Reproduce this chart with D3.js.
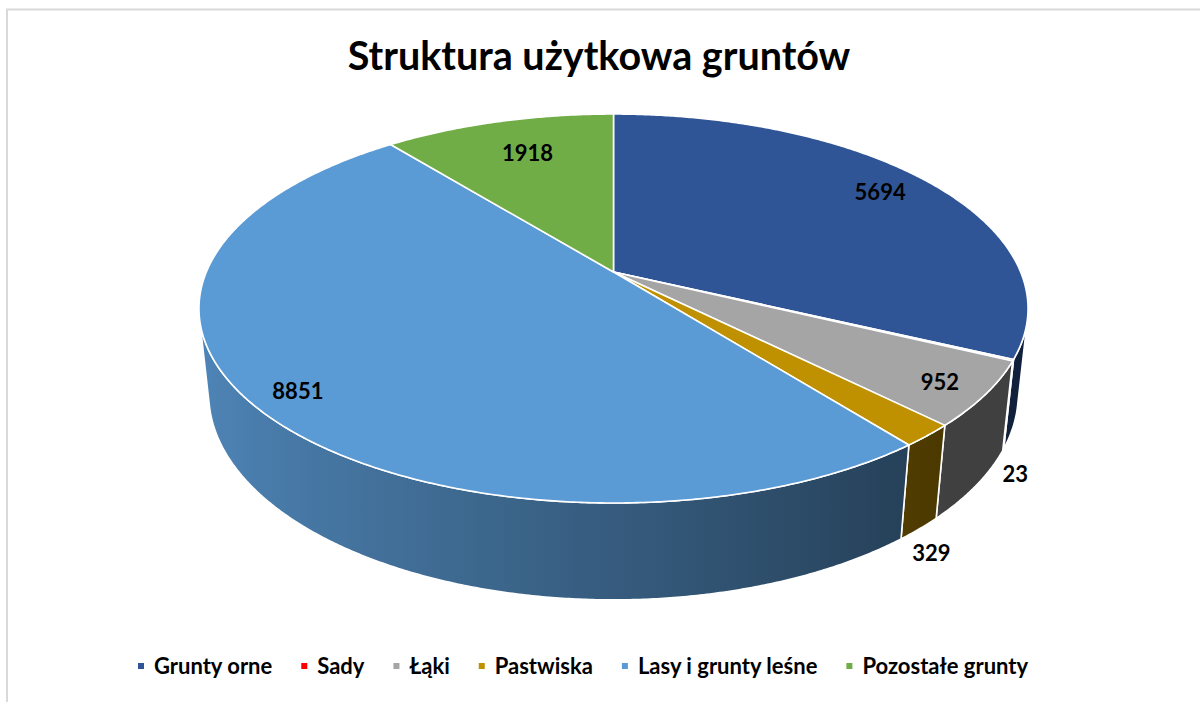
<!DOCTYPE html>
<html>

<head>
    <meta charset="utf-8">
    <script src="https://d3js.org/d3.v7.min.js"></script>
    <style>
        body {
            margin: 0;
            background: #fff;
        }

        text {
            font-family: Lato, "Open Sans", sans-serif;
            font-weight: bold;
            fill: #000;
        }
    </style>
</head>

<body>
    <script>
        var title = "Struktura użytkowa gruntów";
        var categories = ["Grunty orne", "Sady", "Łąki", "Pastwiska", "Lasy i grunty leśne", "Pozostałe grunty"];
        var values = [5694, 23, 952, 329, 8851, 1918];
        var colors = ["#2F5597", "#FF0000", "#A5A5A5", "#BF9000", "#5B9BD5", "#70AD47"];

        var width = 1200, height = 702;

        var svg = d3.select("body").append("svg")
            .attr("width", width)
            .attr("height", height);

        var defs = svg.append("defs");

        // chart frame
        svg.append("rect")
            .attr("x", 7)
            .attr("y", 9.5)
            .attr("width", 1400)
            .attr("height", 900)
            .attr("fill", "none")
            .attr("stroke", "#d9d9d9")
            .attr("stroke-width", 2);

        svg.append("text")
            .attr("x", 599)
            .attr("y", 70)
            .attr("text-anchor", "middle")
            .style("font-size", "39.5px")
            .text(title);

        // simple perspective camera for the 3d pie (radius = 1)
        var cx = 613.5, cy = 272;
        var focal = 1925, dist = 4.728, depth = 0.239;
        var tilt = 27.44 * Math.PI / 180;

        function project(a, r, y) {
            var X = r * Math.sin(a), Z = -r * Math.cos(a);
            var yc = -y * Math.cos(tilt) + Z * Math.sin(tilt);
            var zc = dist - (Z * Math.cos(tilt) + y * Math.sin(tilt));
            return [cx + focal * X / zc, cy + focal * yc / zc];
        }

        function arcPoints(a0, a1, r, y) {
            var n = Math.max(2, Math.ceil(Math.abs(a1 - a0) / (0.4 * Math.PI / 180)));
            var pts = [];
            for (var k = 0; k <= n; k++) {
                pts.push(project(a0 + (a1 - a0) * k / n, r, y));
            }
            return pts;
        }

        // outer wall is facing the camera between these angles
        var aS = Math.acos(-1 / (dist * Math.cos(tilt)));
        var aE = 2 * Math.PI - aS;

        function shade(a) {
            return Math.max(0.39, 0.59 - 0.28 * Math.sin(a));
        }

        function darken(c, k) {
            var col = d3.rgb(c);
            return d3.rgb(col.r * k, col.g * k, col.b * k).formatHex();
        }

        var pie = d3.pie().sort(null).value(function (d) { return d; });
        var arcs = pie(values);
        var total = d3.sum(values);

        var line = d3.line();

        // side gradients, light from the left
        var xl = project(aE, 1, 0)[0], xr = project(aS, 1, 0)[0];
        colors.forEach(function (c, i) {
            var g = defs.append("linearGradient")
                .attr("id", "side" + i)
                .attr("gradientUnits", "userSpaceOnUse")
                .attr("x1", xl).attr("x2", xr)
                .attr("y1", 0).attr("y2", 0);
            for (var k = 0; k <= 40; k++) {
                var a = aE - (aE - aS) * k / 40;
                var x = project(a, 1, 0)[0];
                g.append("stop")
                    .attr("offset", (x - xl) / (xr - xl))
                    .attr("stop-color", darken(c, shade(a)));
            }
        });

        var sides = svg.append("g").attr("class", "sides");
        arcs.forEach(function (d, i) {
            var a0 = Math.max(d.startAngle, aS), a1 = Math.min(d.endAngle, aE);
            if (a1 <= a0) return;
            var pts = arcPoints(a0, a1, 1, 0).concat(arcPoints(a1, a0, 1, -depth));
            sides.append("path")
                .attr("d", line(pts) + "Z")
                .attr("fill", "url(#side" + i + ")")
                .attr("stroke", "#fff")
                .attr("stroke-width", 1.6)
                .attr("stroke-linejoin", "round");
        });

        var tops = svg.append("g").attr("class", "tops");
        tops.selectAll("path")
            .data(arcs)
            .enter().append("path")
            .attr("d", function (d) {
                return line([[cx, cy]].concat(arcPoints(d.startAngle, d.endAngle, 1, 0))) + "Z";
            })
            .attr("fill", function (d, i) { return colors[i]; })
            .attr("stroke", "#fff")
            .attr("stroke-width", 1.6)
            .attr("stroke-linejoin", "round");

        // data labels
        var labels = svg.append("g").attr("class", "labels");
        arcs.forEach(function (d) {
            var mid = (d.startAngle + d.endAngle) / 2;
            var p;
            if (d.value / total < 0.03) {
                p = project(mid, 1, -depth);
                p = [p[0] + 12, p[1] + 24];
            } else {
                var e = project(mid, 1, 0);
                var dx = cx - e[0], dy = cy - e[1], len = Math.sqrt(dx * dx + dy * dy);
                p = [e[0] + dx * 48 / len, e[1] + dy * 40 / len];
            }
            labels.append("text")
                .attr("x", p[0])
                .attr("y", p[1])
                .attr("text-anchor", "middle")
                .attr("dy", "0.36em")
                .style("font-size", "22px")
                .text(d.value);
        });

        // legend
        var legend = svg.append("g").attr("class", "legend");
        var lx = 138;
        categories.forEach(function (name, i) {
            legend.append("rect")
                .attr("x", lx)
                .attr("y", 663)
                .attr("width", 6)
                .attr("height", 6)
                .attr("fill", colors[i]);
            var t = legend.append("text")
                .attr("x", lx + 16)
                .attr("y", 674)
                .style("font-size", "22px")
                .text(name);
            lx += 16 + t.node().getComputedTextLength() + 29;
        });
    </script>
</body>

</html>
